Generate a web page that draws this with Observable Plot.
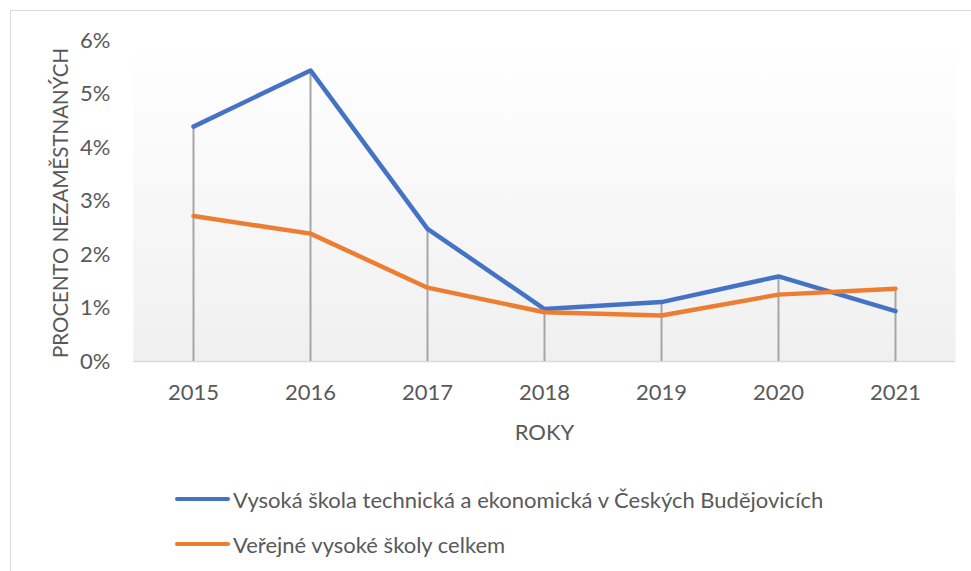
<!DOCTYPE html>
<html><head><meta charset="utf-8">
<script src="https://cdn.jsdelivr.net/npm/d3@7"></script>
<script src="https://cdn.jsdelivr.net/npm/@observablehq/plot@0.6"></script>
<style>
body{margin:0;background:#fff;overflow:hidden;}
#wrap{position:relative;width:971px;height:571px;overflow:hidden;font-family:Lato,sans-serif;color:#595959;}
#border{position:absolute;left:10px;top:10px;width:1000px;height:600px;border:1px solid #d9d9d9;box-sizing:border-box;}
#chart{position:absolute;left:0;top:0;}
.leg{position:absolute;left:175px;display:flex;align-items:center;font-size:22px;white-space:nowrap;height:26px;}
.sw{width:55px;height:4px;border-radius:2px;margin-right:3px;}
</style>
</head><body>
<div id="wrap"><div id="border"></div><div id="chart"></div><div id="legend"></div></div>
<script>
const years = [2015, 2016, 2017, 2018, 2019, 2020, 2021];
const vste = [4.39, 5.44, 2.48, 0.98, 1.11, 1.59, 0.94];
const verejne = [2.72, 2.39, 1.38, 0.92, 0.86, 1.25, 1.36];
const seriesNames = ["Vysoká škola technická a ekonomická v Českých Budějovicích", "Veřejné vysoké školy celkem"];
const seriesColors = ["#4472C4", "#ED7D31"];
const yTicks = [0, 1, 2, 3, 4, 5, 6];
const yLabel = "PROCENTO NEZAMĚSTNANÝCH";
const xLabel = "ROKY";

const rows = [];
years.forEach((y, i) => { rows.push({year: y, value: vste[i], series: seriesNames[0]}); });
years.forEach((y, i) => { rows.push({year: y, value: verejne[i], series: seriesNames[1]}); });
const drops = years.map((y, i) => ({year: y, hi: Math.max(vste[i], verejne[i])}));

const svg = Plot.plot({
  width: 971, height: 460,
  marginLeft: 133, marginRight: 16, marginTop: 40, marginBottom: 99,
  style: {fontFamily: "Lato, sans-serif", fontSize: "22px", color: "#595959", background: "transparent"},
  x: {type: "point", domain: years, padding: 0.5},
  y: {domain: [0, 6]},
  color: {domain: seriesNames, range: seriesColors},
  marks: [
    Plot.frame({fill: "url(#plotbg)", stroke: "none"}),
    Plot.ruleY([0], {stroke: "#d9d9d9", strokeWidth: 1.5}),
    Plot.ruleX(drops, {x: "year", y1: 0, y2: "hi", stroke: "#a6a6a6", strokeWidth: 2}),
    Plot.line(rows, {x: "year", y: "value", z: "series", stroke: "series", strokeWidth: 4.5, strokeLinejoin: "round", strokeLinecap: "round"}),
    Plot.axisY({ticks: yTicks, tickFormat: d => d + "%", tickSize: 0, tickPadding: 23, fontSize: 22, label: null}),
    Plot.axisX({tickSize: 0, tickPadding: 23, fontSize: 22, tickFormat: d => String(d), label: null}),
    Plot.text([yLabel], {frameAnchor: "left", textAnchor: "middle", lineAnchor: "middle", dx: -72, dy: 2, rotate: -90, fontSize: 20.5, fill: "#595959"}),
    Plot.text([xLabel], {frameAnchor: "bottom", textAnchor: "middle", lineAnchor: "middle", dy: 71, fontSize: 22, fill: "#595959"})
  ]
});
const defs = d3.select(svg).insert("defs", ":first-child");
const g = defs.append("linearGradient").attr("id", "plotbg").attr("x1", 0).attr("y1", 0).attr("x2", 0).attr("y2", 1);
g.append("stop").attr("offset", "0%").attr("stop-color", "#ffffff");
g.append("stop").attr("offset", "100%").attr("stop-color", "#f0f0f0");
document.getElementById("chart").appendChild(svg);

const legend = document.getElementById("legend");
const tops = [486, 531];
seriesNames.forEach((n, i) => {
  const d = document.createElement("div");
  d.className = "leg";
  d.style.top = tops[i] + "px";
  const sw = document.createElement("div");
  sw.className = "sw";
  sw.style.background = seriesColors[i];
  const t = document.createElement("span");
  t.textContent = n;
  d.appendChild(sw); d.appendChild(t);
  legend.appendChild(d);
});
</script>
</body></html>
